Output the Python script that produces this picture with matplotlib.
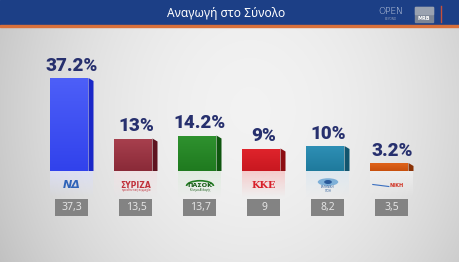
import numpy as np
import matplotlib
matplotlib.use("Agg")
import matplotlib.pyplot as plt
from matplotlib.patches import Rectangle, Polygon, Ellipse, Arc
from matplotlib.colors import to_rgb

# ---- data ----
parties = ["ΝΔ", "ΣΥΡΙΖΑ", "ΠΑΣΟΚ", "ΚΚΕ", "ΕΛΛΗΝΙΚΗ ΛΥΣΗ", "ΝΙΚΗ"]
share = [37.2, 13, 14.2, 9, 10, 3.2]
share_labels = ["37.2%", "13%", "14.2%", "9%", "10%", "3.2%"]
raw_values = ["37,3", "13,5", "13,7", "9", "8,2", "3,5"]
front_top = ["#4d5ff8", "#a8404e", "#2f922f", "#e0242c", "#2e8fb5", "#e0631a"]
front_bot = ["#3142ec", "#8a2a38", "#1f7a1f", "#c81820", "#1f7a9c", "#c8500e"]
side_colors = ["#1a27c8", "#5e1420", "#0f560f", "#8c0d12", "#12546e", "#8a3206"]
tint_colors = ["#dcdff5", "#f0e2e4", "#e0ece0", "#f6c8c8", "#dde8f0", "#eeeeee"]

W, H = 460, 262
fig = plt.figure(figsize=(W / 100, H / 100), dpi=100)

# ---- background ----
bg = fig.add_axes([0, 0, 1, 1])
bg.set_xlim(0, W)
bg.set_ylim(H, 0)
bg.axis("off")
yy, xx = np.mgrid[0:H, 0:W]
v = 0.95 - 0.15 * ((xx - 250) / 250.0) ** 2 - 0.04 * ((yy - 110) / 150.0) ** 2
v = np.clip(v, 0, 1)
bg.imshow(np.dstack([v, v, v]), extent=(0, W, H, 0), aspect="auto", zorder=0)

# header band
bg.add_patch(Rectangle((0, 0), W, 25, color="#1c3f86", zorder=2))
bg.add_patch(Rectangle((0, 25), W, 1.6, color="#d9703a", zorder=2))
bg.text(226, 13.5, "Αναγωγή στο Σύνολο", color="white", fontsize=8.6,
        family="Noto Sans", ha="center", va="center", zorder=3)
bg.text(391, 11, "OPEN", color="#dde3ef", fontsize=6.5, family="DejaVu Sans",
        fontweight="light", ha="center", va="center", zorder=3)
bg.text(391, 19, "BEYOND", color="#8f9cba", fontsize=2.2, ha="center",
        va="center", zorder=3)
bg.add_patch(Rectangle((415, 7), 18, 15, color="#7d8696", zorder=3))
bg.add_patch(Rectangle((415, 7), 18, 7, color="#9aa2b0", zorder=3))
bg.text(424, 18, "MRB", color="white", fontsize=3.5, fontweight="bold",
        ha="center", va="center", zorder=4)
bg.plot([441, 441], [6, 22], color="#c8503a", lw=1, zorder=3)

# ---- bars ----
ax = fig.add_axes([40 / W, 0, 384 / W, (H - 26) / H])
px = 2.5  # pixels per percentage point
ax.set_xlim(-0.5, 5.5)
ax.set_ylim(-(H - 171) / px, (171 - 26) / px)
ax.axis("off")
ax.patch.set_alpha(0)

n = len(share)
xpos = np.arange(n)
w = 38 / 64.0
d = 5 / 64.0
slant = 3 / px
left = xpos - (w + d) / 2

bars = ax.bar(left, share, width=w, align="edge", color=front_bot, zorder=3,
              linewidth=0)

for i, b in enumerate(bars):
    x0, h = b.get_x(), b.get_height()
    # vertical gradient on the front face
    c1, c2 = np.array(to_rgb(front_top[i])), np.array(to_rgb(front_bot[i]))
    t = np.linspace(0, 1, 64)[:, None, None]
    grad = c1 * (1 - t) + c2 * t
    grad = np.repeat(grad, 2, axis=1)
    im = ax.imshow(grad, extent=(x0, x0 + w, 0, h), aspect="auto", zorder=4)
    im.set_clip_path(b)
    # right side face
    ax.add_patch(Polygon([(x0 + w, 0), (x0 + w + d, 0),
                          (x0 + w + d, h - slant), (x0 + w, h)],
                         closed=True, color=side_colors[i], lw=0, zorder=4))
    # faint reflection under the bar
    tint = np.array(to_rgb(tint_colors[i]))
    a = np.linspace(0.95, 0.0, 40)[:, None]
    refl = np.zeros((40, 2, 4))
    refl[..., :3] = tint
    refl[..., 3] = a
    ax.imshow(refl, extent=(x0, x0 + w + d, -10.5, 0), aspect="auto", zorder=2)
    # percentage label
    ax.annotate(share_labels[i], (x0 + (w + d) / 2, h), xytext=(0, 2.2),
                textcoords="offset points", ha="center", va="bottom",
                fontsize=13.5, fontweight="heavy", family="Roboto",
                color="#27306e", zorder=5)
    # raw value box
    cx = x0 + (w + d) / 2
    bw = 33 / 64.0
    ax.add_patch(Rectangle((cx - bw / 2, -18.0), bw, 6.8, color="#838383",
                           lw=0, zorder=3))
    ax.text(cx, -14.6, raw_values[i], color="#e4e4e4", fontsize=7.5,
            family="Noto Sans", ha="center", va="center", zorder=4)

# ---- party marks under the bars ----
ly = -5.6
cxs = left + (w + d) / 2
ax.text(cxs[0], ly, "ΝΔ", color="#2f63b8", fontsize=8, fontweight="bold",
        style="italic", ha="center", va="center", zorder=5)
ax.text(cxs[1], ly, "ΣΥΡΙΖΑ", color="#c0303a", fontsize=5.5,
        fontweight="bold", ha="center", va="center", zorder=5)
ax.text(cxs[1], ly - 2.0, "προοδευτική συμμαχία", color="#c0303a",
        fontsize=1.8, ha="center", va="center", zorder=5)
ax.add_patch(Arc((cxs[2], ly - 0.4), 0.42, 4.2, theta1=0, theta2=180,
                 color="#1f7a1f", lw=1.2, zorder=5))
ax.text(cxs[2], ly - 0.3, "ΠΑΣΟΚ", color="#145a14", fontsize=4.6,
        fontweight="bold", ha="center", va="center", zorder=5)
ax.text(cxs[2], ly - 2.0, "Κίνημα Αλλαγής", color="#145a14",
        fontsize=1.8, ha="center", va="center", zorder=5)
ax.text(cxs[3], ly, "ΚΚΕ", color="#d8202a", fontsize=7,
        fontweight="bold", family="DejaVu Serif", ha="center", va="center",
        zorder=5)
ax.add_patch(Ellipse((cxs[4], ly + 1.2), 0.32, 3.0, color="#7eb0d8",
                     lw=0, zorder=5))
ax.add_patch(Ellipse((cxs[4], ly + 1.2), 0.12, 1.6, color="#2a5a9a",
                     lw=0, zorder=5))
ax.text(cxs[4], ly - 1.6, "ΕΛΛΗΝΙΚΗ\nΛΥΣΗ", color="#2a5a9a", fontsize=1.9,
        ha="center", va="center", linespacing=1.0, zorder=5)
ax.plot([cxs[5] - 0.3, cxs[5] - 0.05], [ly + 0.2, ly - 0.6], color="#3a6fc0",
        lw=0.8, zorder=5)
ax.text(cxs[5] + 0.08, ly - 0.3, "ΝΙΚΗ", color="#d03020", fontsize=3.6,
        fontweight="bold", ha="center", va="center", zorder=5)

fig.savefig("out.png", dpi=100)
